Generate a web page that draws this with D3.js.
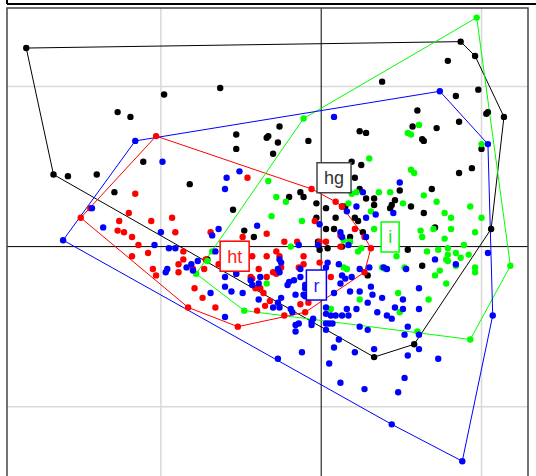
<!DOCTYPE html>
<html>
<head>
<meta charset="utf-8">
<script src="https://cdn.jsdelivr.net/npm/d3@7"></script>
<style>
  body { margin: 0; background: #fff; }
</style>
</head>
<body>
<div id="chart"></div>
<script>
// scores of each class on the two axes (grid step d = 1)
const hg = [[-1.84,1.24],[-0.98,0.95],[-0.63,0.99],[-1.27,0.84],[-1.19,0.81],[-0.53,0.70],[-0.34,0.68],[-0.53,0.61],
  [-1.11,0.53],[-1.67,0.45],[-1.58,0.44],[-1.40,0.45],[-0.82,0.39],[-1.29,0.34],[-0.55,0.23],[-0.48,0.10],[-0.42,0.06],
  [-0.71,-0.08],[0.87,1.28],[0.96,1.19],[1.14,0.81],[0.79,1.16],[0.38,1.03],[0.84,0.94],[0.98,0.98],[0.60,0.85],
  [0.57,0.75],[0.72,0.74],[0.86,0.78],[1.04,0.84],[1.03,0.83],[-0.26,0.75],[-0.33,0.69],[-0.27,0.65],[-0.08,0.66],
  [-0.30,0.58],[0.24,0.72],[0.28,0.71],[0.63,0.67],[0.64,0.66],[0.86,0.46],[0.94,0.49],[0.19,0.53],[0.25,0.51],
  [0.21,0.43],[0.24,0.36],[0.28,0.30],[0.33,0.30],[0.33,0.26],[0.46,0.29],[0.49,0.35],[0.44,0.26],[0.43,0.24],
  [0.56,0.25],[0.64,0.21],[0.69,0.36],[-0.13,0.34],[-0.11,0.31],[-0.20,0.31],[-0.03,0.27],[0.03,0.24],[0.09,0.18],
  [0.13,0.25],[0.15,0.25],[0.21,0.18],[0.23,0.16],[0.03,0.11],[0.08,0.11],[0.26,0.09],[0.71,0.12],[1.00,0.61],
  [1.06,0.11],[0.58,-0.61],[0.33,-0.69],[-0.01,-0.02],[0.04,-0.01],[0.13,0.00],[0.54,-0.02],[0.63,-0.12],[0.29,-0.18],
  [-0.03,0.18],[-0.02,0.03],[0.18,0.06]];

const ht = [[-1.03,0.69],[-0.46,0.43],[-1.16,0.33],[-1.44,0.24],[-1.50,0.18],[-1.20,0.21],[-1.26,0.16],[-1.06,0.16],
  [-0.93,0.18],[-1.27,0.10],[-1.23,0.09],[-1.18,0.06],[-0.91,0.09],[-0.69,0.09],[-0.49,0.06],[-0.34,0.08],[-1.14,0.01],
  [-1.08,-0.04],[-1.18,-0.06],[-1.05,-0.14],[-1.03,-0.18],[-0.89,-0.11],[-0.86,-0.08],[-0.86,-0.03],[-0.89,-0.16],
  [-0.80,-0.14],[-0.73,-0.14],[-0.64,-0.11],[-0.79,-0.26],[-0.74,-0.32],[-0.66,-0.38],[-0.83,-0.38],[-0.52,-0.50],
  [-0.43,-0.06],[-0.40,-0.40],[-0.35,-0.37],[-0.39,-0.14],[-0.43,-0.20],[-0.41,-0.26],[-0.38,-0.26],[-0.34,-0.19],
  [-0.34,-0.06],[-0.06,0.36],[0.09,0.28],[0.13,0.25],[-0.04,0.16],[0.21,0.11],[0.27,0.06],[0.31,-0.01],[0.27,-0.16],
  [0.12,0.00],[0.03,0.03],[0.06,-0.19],[-0.23,0.03],[-0.15,0.03],[-0.28,-0.03],[-0.26,-0.06],[-0.11,-0.06],
  [-0.25,-0.13],[-0.53,-0.17],[-0.44,-0.19],[-0.30,-0.16],[-0.28,-0.17],[-0.72,-0.08],[-0.36,-0.29],[-0.32,-0.34],
  [-0.23,-0.43],[-0.10,-0.41],[-0.08,-0.35],[0.12,0.07],[-0.01,0.03],[-0.11,-0.11],[-0.14,-0.13],[-0.01,-0.10],
  [-0.13,-0.36]];

const i = [[0.97,1.43],[-0.11,0.80],[0.30,0.55],[0.54,0.71],[0.56,0.70],[0.61,0.76],[0.56,0.48],[0.58,0.46],
  [0.19,0.33],[0.22,0.34],[0.17,0.27],[0.31,0.22],[0.43,0.34],[0.51,0.27],[0.64,0.32],[0.72,0.28],[0.77,0.21],
  [0.81,0.18],[0.93,0.25],[1.00,0.18],[0.96,0.09],[0.81,0.11],[0.70,0.11],[0.62,0.10],[0.33,0.11],[-0.12,0.16],
  [-0.22,0.28],[-0.28,0.31],[-0.31,0.19],[-0.33,0.41],[1.00,0.64],[0.36,0.34],[0.63,0.06],[0.77,0.05],[-0.19,0.00],
  [-0.78,-0.17],[-0.71,-0.09],[-0.68,-0.03],[-0.48,-0.40],[-0.34,-0.23],[0.14,0.04],[0.25,-0.01],[0.23,-0.03],
  [0.47,-0.06],[0.66,-0.03],[0.73,-0.02],[0.79,-0.01],[0.84,-0.04],[0.14,-0.13],[0.16,-0.14],[0.38,-0.13],
  [0.40,-0.14],[0.18,0.03],[0.79,-0.05],[0.87,-0.07],[0.89,0.01],[0.92,-0.05],[0.78,-0.08],[0.79,-0.09],
  [0.84,-0.12],[0.71,-0.18],[0.74,-0.15],[0.52,-0.13],[0.96,-0.13],[0.96,-0.16],[0.48,-0.29],[0.49,-0.41],
  [0.24,-0.33],[0.06,-0.39],[0.60,-0.53],[0.93,-0.58],[1.18,-0.12],[0.67,-0.33],[0.78,-0.23]];

const r = [[-1.16,0.66],[-0.99,0.53],[-0.51,0.47],[-0.59,0.43],[-0.60,0.36],[-1.43,0.24],[-1.36,0.12],[-1.00,0.09],
  [-0.64,0.11],[-0.68,0.07],[-0.40,0.13],[-1.61,0.04],[-1.04,0.01],[-0.95,-0.01],[-0.91,-0.01],[-0.77,-0.09],
  [-0.96,-0.14],[-0.97,-0.16],[-0.84,-0.13],[-0.81,-0.11],[-0.80,-0.15],[-0.66,-0.03],[-0.60,-0.19],[-0.60,-0.25],
  [-0.56,-0.28],[-0.69,-0.29],[-0.49,-0.29],[-0.44,-0.21],[-0.43,-0.24],[-0.38,-0.19],[-0.39,-0.33],[-0.60,-0.44],
  [-0.53,-0.17],[-0.14,0.01],[-0.02,0.01],[-0.26,-0.08],[0.03,-0.13],[-0.13,-0.14],[-0.27,-0.14],[0.08,0.81],
  [0.49,0.40],[0.26,0.34],[0.22,0.25],[0.16,0.22],[0.28,0.18],[0.34,0.20],[0.45,0.21],[-0.01,0.14],[0.12,0.09],
  [0.28,0.06],[1.04,0.64],[0.74,0.97],[0.71,-0.08],[0.53,-0.14],[0.84,-0.11],[0.24,-0.14],[0.30,-0.13],[0.13,0.06],
  [0.04,-0.10],[0.13,-0.18],[0.15,-0.20],[0.19,-0.19],[0.39,-0.13],[0.41,-0.14],[0.12,-0.23],[0.08,-0.29],
  [0.18,-0.28],[0.24,-0.28],[0.31,-0.25],[0.32,-0.30],[0.29,-0.35],[0.38,-0.32],[0.22,-0.39],[0.16,-0.39],
  [0.17,-0.43],[0.13,-0.43],[0.09,-0.43],[0.06,-0.43],[0.03,-0.42],[0.05,-0.48],[0.07,-0.48],[0.03,-0.48],
  [0.03,-0.52],[0.11,-0.58],[0.08,-0.63],[0.21,-0.66],[0.05,-0.73],[0.12,-0.85],[0.27,-0.89],[0.33,-0.64],
  [0.29,-0.52],[0.24,-0.50],[0.35,-0.41],[0.41,-0.43],[0.44,-0.45],[0.46,-0.38],[0.51,-0.39],[0.51,-0.33],
  [0.61,-0.26],[0.61,-0.39],[0.54,-0.50],[0.52,-0.55],[0.61,-0.55],[0.61,-0.64],[0.54,-0.68],[0.73,-0.70],
  [0.52,-0.82],[0.48,-0.91],[0.44,-1.11],[0.88,-1.34],[-0.27,-0.70],[1.07,-0.43],[1.04,-0.04],[-0.12,-0.66],
  [-0.16,-0.49],[-0.16,-0.53],[-0.14,-0.48],[-0.06,-0.49],[-0.05,-0.45],[-0.20,-0.22],[-0.17,-0.21],[-0.25,-0.10],
  [-0.13,-0.19],[-0.10,-0.24],[-0.10,-0.26],[-0.11,-0.30],[-0.25,-0.32],[-0.26,-0.38],[-0.30,-0.38],[0.11,-0.11],
  [0.17,0.01],[-0.39,-0.23],[-0.26,-0.16],[-0.21,-0.24],[-0.16,-0.30],[-0.27,-0.35],[-0.19,-0.39],[-0.18,-0.41],
  [-0.06,-0.47],[-0.10,-0.31],[0.03,-0.38]];

const classNames = ['hg', 'ht', 'i', 'r'];
const classColors = ['#000000', '#ff0000', '#00ff00', '#0000ff'];
const labelColors = ['#333333', '#ff2020', '#20e020', '#2020ff'];
// position of each class label (class centre)
const classCentres = [[0.08,0.43], [-0.54,-0.06], [0.43,0.06], [-0.03,-0.24]];
const gridLines = [-1, 1];

const W = 536, H = 476;
const box = {left: 7, right: 528, top: 8, bottom: 490};

const svg = d3.select('#chart').append('svg')
    .attr('width', W)
    .attr('height', H);

const x = d3.scaleLinear().domain([-1.96, 1.29]).range([box.left, box.right]);
const y = d3.scaleLinear().domain([-1.52, 1.49]).range([box.bottom, box.top]);

// edge of the panel above (cut off in the figure)
svg.append('line')
    .attr('x1', box.left).attr('x2', W)
    .attr('y1', 4).attr('y2', 4)
    .attr('stroke', '#000').attr('stroke-width', 2);
svg.append('line')
    .attr('x1', box.left).attr('x2', box.left)
    .attr('y1', 0).attr('y2', 4)
    .attr('stroke', '#000').attr('stroke-width', 2);

// grid
const grid = svg.append('g');
grid.selectAll('.gx').data(gridLines).enter().append('line')
    .attr('x1', d => x(d)).attr('x2', d => x(d))
    .attr('y1', box.top).attr('y2', box.bottom)
    .attr('stroke', '#d9d9d9').attr('stroke-width', 1.5);
grid.selectAll('.gy').data(gridLines).enter().append('line')
    .attr('x1', box.left).attr('x2', box.right)
    .attr('y1', d => y(d)).attr('y2', d => y(d))
    .attr('stroke', '#d9d9d9').attr('stroke-width', 1.5);

// axes through the origin
svg.append('line')
    .attr('x1', x(0)).attr('x2', x(0))
    .attr('y1', box.top).attr('y2', box.bottom)
    .attr('stroke', '#000').attr('stroke-width', 1);
svg.append('line')
    .attr('x1', box.left).attr('x2', box.right)
    .attr('y1', y(0)).attr('y2', y(0))
    .attr('stroke', '#000').attr('stroke-width', 1);

const classes = [hg, ht, i, r];

// convex hulls
const line = d3.line().x(d => x(d[0])).y(d => y(d[1]));
classes.forEach(function(pts, k) {
  const hull = d3.polygonHull(pts);
  svg.append('path')
      .attr('d', line(hull) + 'Z')
      .attr('fill', 'none')
      .attr('stroke', classColors[k])
      .attr('stroke-width', 1);
});

// points
classes.forEach(function(pts, k) {
  svg.append('g').selectAll('circle').data(pts).enter().append('circle')
      .attr('cx', d => x(d[0]))
      .attr('cy', d => y(d[1]))
      .attr('r', 3.2)
      .attr('fill', classColors[k]);
});

// class labels
classNames.forEach(function(name, k) {
  const c = classCentres[k];
  const g = svg.append('g')
      .attr('transform', 'translate(' + x(c[0]) + ',' + y(c[1]) + ')');
  const rect = g.append('rect');
  const t = g.append('text')
      .attr('text-anchor', 'middle')
      .attr('dy', '0.36em')
      .style('font-family', '"Liberation Sans", Arial, sans-serif')
      .style('font-size', '18px')
      .attr('fill', labelColors[k])
      .text(name);
  const tw = t.node().getComputedTextLength();
  rect.attr('x', -tw / 2 - 7).attr('y', -15)
      .attr('width', tw + 14).attr('height', 30)
      .attr('fill', '#fff')
      .attr('stroke', classColors[k] === '#000000' ? '#444' : classColors[k])
      .attr('stroke-width', 1.5);
});

// frame
svg.append('rect')
    .attr('x', box.left).attr('y', box.top)
    .attr('width', box.right - box.left).attr('height', box.bottom - box.top)
    .attr('fill', 'none')
    .attr('stroke', '#444').attr('stroke-width', 1.5);
</script>
</body>
</html>
